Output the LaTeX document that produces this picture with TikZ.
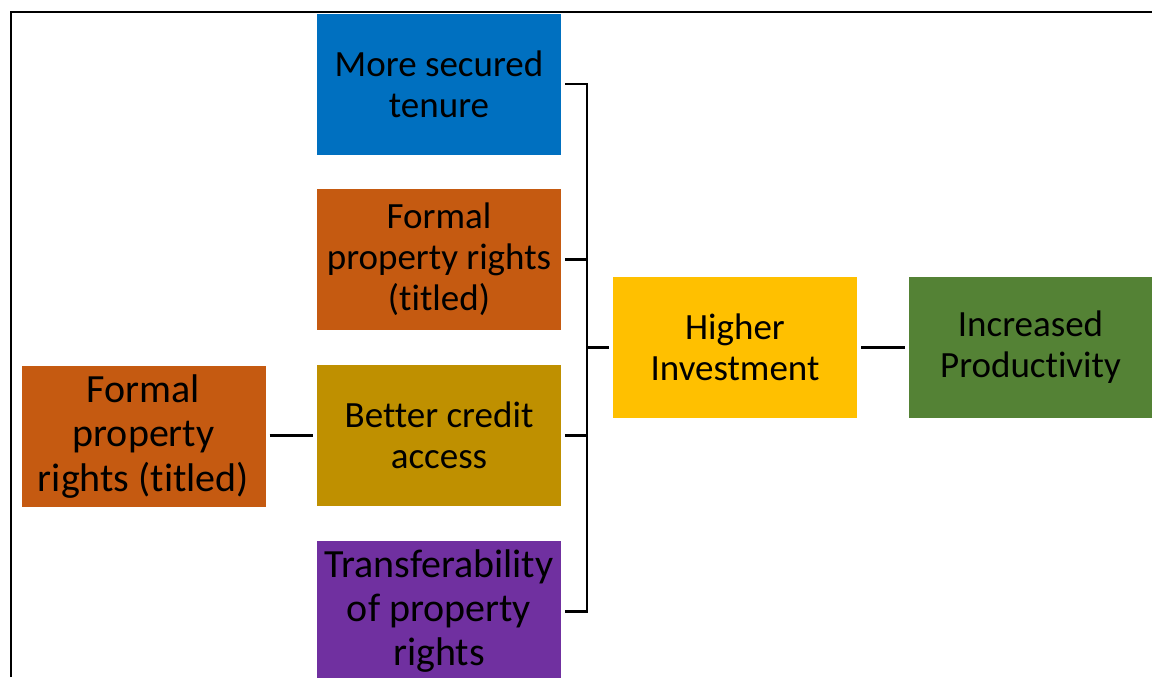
\documentclass[tikz,border=0pt]{standalone}
\usepackage{fontspec}
\setmainfont{Carlito}[Ligatures=NoCommon]
\definecolor{tenureblue}{HTML}{0070C0}
\definecolor{titleorange}{HTML}{C55A11}
\definecolor{creditolive}{HTML}{BF9000}
\definecolor{transpurple}{HTML}{7030A0}
\definecolor{investyellow}{HTML}{FFC000}
\definecolor{prodgreen}{HTML}{548235}
\begin{document}
\begin{tikzpicture}[x=0.5pt,y=-0.5pt,
  box/.style={rectangle, minimum width=122pt, minimum height=70.5pt, inner sep=0pt, outer sep=2pt, align=center, font=\fontsize{18.5}{20.5}\selectfont},
  link/.style={draw, line width=1.2pt, -}]
\useasboundingbox (0,0) rectangle (1152,677);
\draw[line width=1.2pt] (11,677) -- (11,12) -- (1152,12);

\node[box, fill=tenureblue] (1) at (439,84) {More secured\\tenure};
\node[box, fill=titleorange] (2) at (439,259.5) {Formal\\property rights\\(titled)};
\node[box, fill=creditolive] (3) at (439,435.5) {Better credit\\access};
\node[box, fill=transpurple, font=\fontsize{20}{22}\selectfont] (4) at (439,611.5) {Transferability\\of property\\rights};

\node[box, fill=titleorange, font=\fontsize{20}{22.3}\selectfont] (0) at (143.5,436.5) {Formal\\property\\rights (titled)};

\node[box, fill=investyellow] (5) at (735,347.5) {Higher\\Investment};
\node[box, fill=prodgreen] (6) at (1030.5,347.5) {Increased\\Productivity};

\coordinate (j) at (587,347.5);

\path[link] (0.east |- 3) -- (3);
\path[link] (1.east) -| (j);
\path[link] (4.east) -| (j);
\path[link] (2.east) -- (2.east -| j);
\path[link] (3.east) -- (3.east -| j);
\path[link] (j) -- (5);
\path[link] (5) -- (6);
\end{tikzpicture}
\end{document}
